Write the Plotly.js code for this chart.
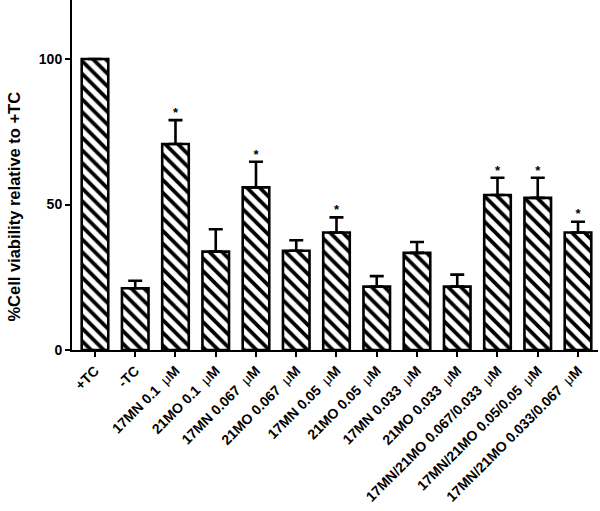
<!DOCTYPE html>
<html>
<head>
<meta charset="utf-8">
<script src="https://cdn.plot.ly/plotly-3.0.1.min.js"></script>
<style>html,body{margin:0;padding:0;background:#fff}#chart{width:600px;height:511px}</style>
</head>
<body>
<div id="chart"></div>
<script>
var categories = ["+TC", "-TC", "17MN 0.1 μM", "21MO 0.1 μM", "17MN 0.067 μM", "21MO 0.067 μM",
  "17MN 0.05 μM", "21MO 0.05 μM", "17MN 0.033 μM", "21MO 0.033 μM",
  "17MN/21MO 0.067/0.033 μM", "17MN/21MO 0.05/0.05 μM", "17MN/21MO 0.033/0.067 μM"];
var values = [100, 21.2, 70.8, 33.8, 55.9, 34.1, 40.4, 21.8, 33.4, 21.8, 53.3, 52.3, 40.4];
var errors = [0, 2.6, 8.2, 7.7, 8.8, 3.6, 5.2, 3.6, 3.7, 4.1, 5.9, 6.9, 3.7];
var significant = [false, false, true, false, true, false, true, false, false, false, true, true, true];

var idx = categories.map(function(c, i){ return i; });
var tickText = categories.map(function(c){
  return c.replace(" μM", "&nbsp;&nbsp;<span style='font-weight:normal'>μ</span>M");
});

var bars = {
  type: 'bar',
  x: idx,
  y: values,
  width: 0.66,
  marker: {
    color: 'white',
    line: {color: 'black', width: 2.6},
    pattern: {shape: '\\', fgcolor: 'black', bgcolor: 'white', size: 9, solidity: 0.42}
  },
  error_y: {
    type: 'data', symmetric: false,
    array: errors,
    arrayminus: errors.map(function(){ return 0; }),
    color: 'black', thickness: 2.6, width: 7
  },
  hoverinfo: 'skip'
};

var starX = [], starY = [];
significant.forEach(function(s, i){
  if (s) { starX.push(i); starY.push(values[i] + errors[i]); }
});
var stars = {
  type: 'scatter', mode: 'text',
  x: starX, y: starY,
  text: starX.map(function(){ return '*'; }),
  textposition: 'top center',
  textfont: {family: 'Liberation Sans, Arial, sans-serif', size: 13, color: 'black', weight: 'bold'},
  hoverinfo: 'skip'
};

var layout = {
  width: 600, height: 511,
  margin: {l: 72, r: 2, t: 0, b: 161},
  paper_bgcolor: 'white', plot_bgcolor: 'white',
  showlegend: false,
  font: {family: 'Liberation Sans, Arial, sans-serif', color: 'black'},
  xaxis: {
    range: [-0.571, 12.497],
    tickmode: 'array', tickvals: idx, ticktext: tickText,
    tickangle: -45,
    tickfont: {size: 14, weight: 'bold', color: 'black'},
    showline: true, linecolor: 'black', linewidth: 2,
    ticks: 'outside', ticklen: 5, tickwidth: 2, tickcolor: 'black',
    showgrid: false, zeroline: false
  },
  yaxis: {
    range: [0, 120.3],
    tickmode: 'linear', tick0: 0, dtick: 50,
    tickfont: {size: 14, weight: 'bold', color: 'black'},
    showline: true, linecolor: 'black', linewidth: 2,
    ticks: 'outside', ticklen: 5, tickwidth: 2, tickcolor: 'black',
    showgrid: false, zeroline: false
  },
  annotations: [{
    text: '%Cell viability relative to +TC',
    xref: 'paper', yref: 'paper',
    x: -0.112, y: 0.41,
    xanchor: 'center', yanchor: 'middle',
    textangle: -90, showarrow: false,
    font: {size: 16.5, weight: 'bold', color: 'black'}
  }]
};

Plotly.newPlot('chart', [bars, stars], layout, {displayModeBar: false, staticPlot: true});
</script>
</body>
</html>
